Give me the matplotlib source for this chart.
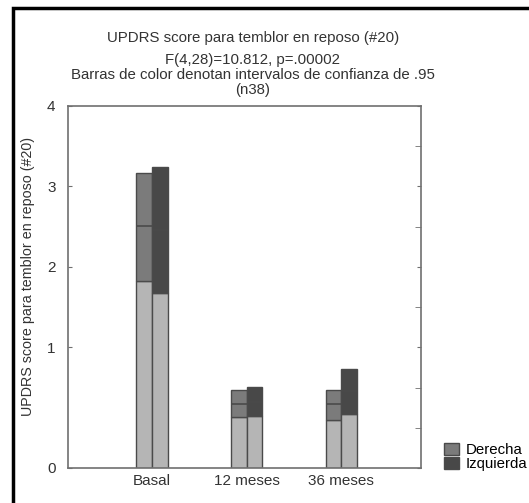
import numpy as np
import matplotlib
matplotlib.use("Agg")
import matplotlib.pyplot as plt
from matplotlib.patches import Patch, Rectangle

plt.rcParams["font.family"] = ["Liberation Sans", "DejaVu Sans"]

# data
groups = ["Basal", "12 meses", "36 meses"]
series = ["Derecha", "Izquierda"]
der_low = [1.82, 0.42, 0.40]
der_mean = [2.51, 0.533, 0.53]
der_high = [3.17, 0.644, 0.644]
izq_low = [1.67, 0.433, 0.447]
izq_mean = [2.46, 0.547, 0.636]
izq_high = [3.245, 0.672, 0.817]
yticks = [0, 1, 2, 3, 4]
right_ticks = [1 / 3, 2 / 3, 1.5, 2.5, 3.5]

light = "#b5b5b5"
colors = ["#7b7b7b", "#484848"]
edge = "#4a4a4a"
txt = "#333333"


# the original axis is stretched below 1
def fwd(v):
    v = np.asarray(v, dtype=float)
    return np.where(v < 1, 1.5 * v, v + 0.5)


def inv(t):
    t = np.asarray(t, dtype=float)
    return np.where(t < 1.5, t / 1.5, t - 0.5)


fig = plt.figure(figsize=(5.29, 5.03), dpi=100)
ax = fig.add_axes([0.1285, 0.0696, 0.6675, 0.7197])
ax.set_yscale("function", functions=(fwd, inv))

x = np.arange(1, len(groups) + 1)
w = 0.165
data = [(der_low, der_mean, der_high), (izq_low, izq_mean, izq_high)]
for i, (lo, mn, hi) in enumerate(data):
    xs = x + (i - 0.5) * w
    lo = np.array(lo)
    hi = np.array(hi)
    ax.bar(xs, lo, width=w, color=light, edgecolor=edge, linewidth=1)
    ax.bar(xs, hi - lo, bottom=lo, width=w, color=colors[i],
           edgecolor=edge, linewidth=1)
    ax.hlines(mn, xs - w / 2, xs + w / 2, color=edge, linewidth=1.2)

ax.set_xlim(0.111, 3.846)
ax.set_ylim(0, 4)
ax.set_xticks(x)
ax.set_xticklabels(groups, fontsize=11, color=txt)
ax.set_yticks(yticks)
ax.set_yticklabels([str(t) for t in yticks], fontsize=11, color=txt)
ax.set_yticks(right_ticks, minor=True)
ax.tick_params(axis="y", which="major", direction="in", length=3,
               left=True, right=True, color="#707070", pad=9)
ax.tick_params(axis="y", which="minor", direction="in", length=4,
               left=False, right=True, color="#707070")
ax.tick_params(axis="x", length=0, pad=4)
for s in ax.spines.values():
    s.set_color("#707070")
    s.set_linewidth(1.2)

ax.set_ylabel("UPDRS score para temblor en reposo (#20)", fontsize=10.3,
              color=txt)
ax.yaxis.set_label_coords(-0.093, 0.53)

fig.text(0.478, 0.925, "UPDRS score para temblor en reposo (#20)",
         ha="center", va="center", fontsize=10.8, color=txt)
fig.text(0.478, 0.881, "F(4,28)=10.812, p=.00002",
         ha="center", va="center", fontsize=10.8, color=txt)
fig.text(0.478, 0.851, "Barras de color denotan intervalos de confianza de .95",
         ha="center", va="center", fontsize=10.8, color=txt)
fig.text(0.478, 0.821, "(n38)",
         ha="center", va="center", fontsize=10.8, color=txt)

handles = [Patch(facecolor=colors[i], edgecolor=edge) for i in range(2)]
fig.legend(handles, series, loc="lower left", bbox_to_anchor=(0.828, 0.051),
           frameon=False, fontsize=10.8, handlelength=1.0, handleheight=0.8,
           handletextpad=0.45, labelspacing=0.0, borderaxespad=0)

# outer frame, cut off at right and bottom as in the scan
fig.patches.append(Rectangle((0.024, -0.1), 1.2, 1.084, transform=fig.transFigure,
                             fill=False, edgecolor="black", linewidth=2.5))

fig.savefig("out.png", dpi=100)
